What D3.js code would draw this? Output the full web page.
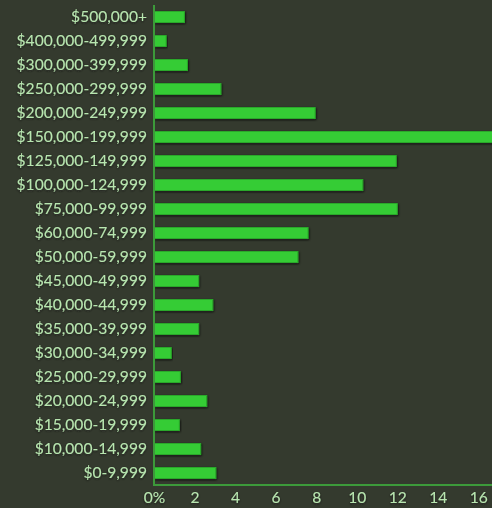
<!DOCTYPE html>
<html>
<head>
<meta charset="utf-8">
<script src="https://cdn.jsdelivr.net/npm/d3@7/dist/d3.min.js"></script>
<style>
  html, body { margin: 0; padding: 0; background: #343a2e; }
  svg { display: block; }
</style>
</head>
<body>
<script>
const categories = [
  "$500,000+", "$400,000-499,999", "$300,000-399,999", "$250,000-299,999",
  "$200,000-249,999", "$150,000-199,999", "$125,000-149,999", "$100,000-124,999",
  "$75,000-99,999", "$60,000-74,999", "$50,000-59,999", "$45,000-49,999",
  "$40,000-44,999", "$35,000-39,999", "$30,000-34,999", "$25,000-29,999",
  "$20,000-24,999", "$15,000-19,999", "$10,000-14,999", "$0-9,999"
];
const values = [
  1.5, 0.6, 1.65, 3.3,
  7.95, 17.2, 11.95, 10.3,
  12.0, 7.6, 7.1, 2.2,
  2.9, 2.2, 0.85, 1.3,
  2.6, 1.25, 2.3, 3.05
];
const tickValues = [0, 2, 4, 6, 8, 10, 12, 14, 16];
const tickLabels = ["0%", "2", "4", "6", "8", "10", "12", "14", "16"];

(function () {
const W = 492, H = 508;
const mLeft = 154, mTop = 5, mBottom = 485;

const svg = d3.select("body").append("svg").attr("width", W).attr("height", H);
svg.append("rect").attr("width", W).attr("height", H).attr("fill", "#343a2e");

const defs = svg.append("defs");
const f = defs.append("filter").attr("id", "sh").attr("x", "-10%").attr("y", "-50%").attr("width", "120%").attr("height", "200%");
f.append("feDropShadow").attr("dx", 0.5).attr("dy", 1).attr("stdDeviation", 1.2)
  .attr("flood-color", "#0d110b").attr("flood-opacity", 0.9);
const tf = defs.append("filter").attr("id", "tsh").attr("x", "-10%").attr("y", "-30%").attr("width", "120%").attr("height", "160%");
tf.append("feDropShadow").attr("dx", 0).attr("dy", 1).attr("stdDeviation", 0.8)
  .attr("flood-color", "#151a12").attr("flood-opacity", 0.8);

const x = d3.scaleLinear().domain([0, 17]).range([mLeft, mLeft + 17 * 20.27]);
const y = d3.scaleBand().domain(categories).range([mTop, mBottom])
  .paddingInner(0.5).paddingOuter(0.25);

svg.append("g").selectAll("rect").data(categories).join("rect")
  .attr("x", x(0) + 0.5)
  .attr("y", d => y(d) + 0.5)
  .attr("width", (d, i) => x(values[i]) - x(0) - 0.5)
  .attr("height", y.bandwidth() - 1)
  .attr("fill", "#34cc34")
  .attr("stroke", "#29a829")
  .attr("stroke-width", 1)
  .attr("filter", "url(#sh)");

const yAxis = svg.append("g").attr("transform", `translate(${mLeft},0)`)
  .call(d3.axisLeft(y).tickSize(0).tickPadding(7));
yAxis.select(".domain").attr("stroke", "#3c9a3a").attr("stroke-width", 2).attr("d", `M0,${mTop}V${mBottom + 1}`);
yAxis.selectAll("text")
  .attr("fill", "#b8e6b0")
  .attr("font-family", "Lato, 'Open Sans', sans-serif")
  .attr("font-size", 15.6)
  .attr("filter", "url(#tsh)");

const xAxis = svg.append("g").attr("transform", `translate(0,${mBottom})`)
  .call(d3.axisBottom(x).tickValues(tickValues).tickFormat((d, i) => tickLabels[i]).tickSize(0).tickPadding(7));
xAxis.select(".domain").attr("stroke", "#3c9a3a").attr("stroke-width", 2).attr("d", `M${mLeft - 1},0H${W}`);
xAxis.selectAll("text")
  .attr("fill", "#b8e6b0")
  .attr("font-family", "Lato, 'Open Sans', sans-serif")
  .attr("font-size", 15.6)
  .attr("filter", "url(#tsh)");
})();
</script>
</body>
</html>
